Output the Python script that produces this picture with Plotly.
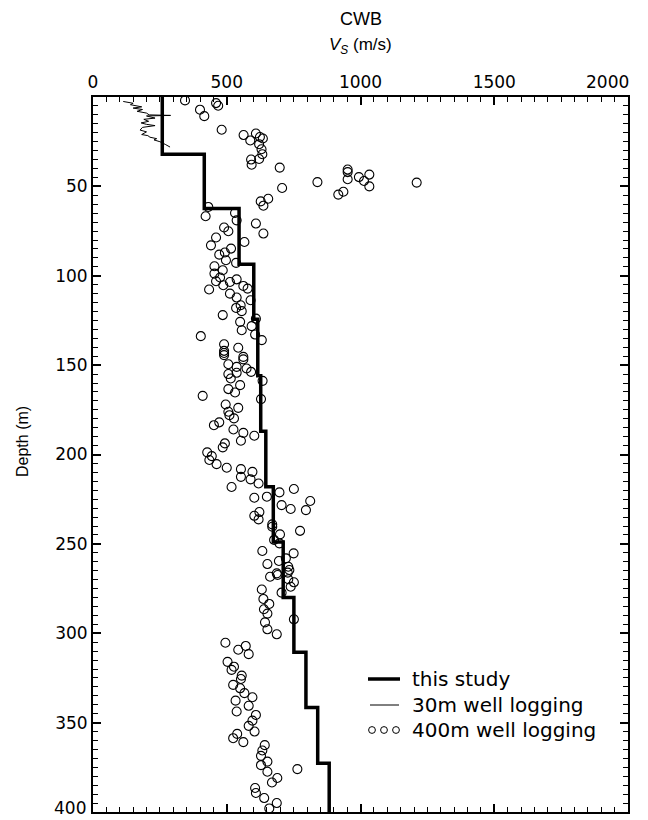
import plotly.graph_objects as go

# ---- data ----
# "this study" layered model: layer top depths (m) and Vs (m/s)
study_top = [0, 32, 62.4, 93.5, 124.3, 156, 187, 218, 249, 280, 310.6, 341.6, 372.7, 400]
study_vs = [259, 416, 546, 601, 616, 627, 646, 674, 711, 751, 796, 840, 883, 883]

# 30 m well logging profile
log30_depth = [2.5, 3.5, 4.3, 5.5, 6.2, 7.0, 8.0, 9.0, 10.0, 10.3, 10.6, 11.8, 12.5, 13.6,
               14.5, 15.3, 16.0, 17.0, 18.5, 19.5, 21.0, 21.6, 22.5, 23.3, 24.0, 25.0, 26.5, 28.0]
log30_vs = [113, 150, 140, 182, 150, 185, 165, 200, 210, 290, 200, 232, 190, 208,
            180, 200, 232, 185, 176, 200, 182, 205, 213, 238, 228, 250, 270, 288]

# 400 m well logging samples
log400_vs = [
    344, 400, 416, 460, 468, 481, 563, 588, 609, 624, 635, 621, 630, 633, 591, 593, 621, 698, 707, 627, 655, 637,
    839, 952, 952, 952, 917, 936, 994, 1013, 1033, 1033, 1210,
    431, 421, 531, 537, 609, 637, 490, 506, 460, 441, 566, 516, 493, 472, 497, 535, 454, 485, 454, 460, 475, 512,
    537, 487, 562, 578, 434, 512, 537, 589, 552, 535, 556, 485, 609, 550, 556, 593, 606, 631, 403, 490, 490, 490,
    490, 543, 562, 562, 506, 537, 574, 591, 537, 506, 515, 634, 550, 506, 531, 410, 628,
    496, 543, 506, 510, 527, 472, 452, 525, 562, 603, 553, 493, 485, 427, 444, 435, 462, 500, 553, 596, 553, 589,
    619, 518, 697, 751, 650, 603, 812, 705, 739, 796, 622, 603, 619, 670, 670, 774, 699, 677, 697, 633, 750, 721,
    695, 652, 730, 734, 728, 687, 690, 662, 730, 751, 739, 631,
    705, 637, 659, 639, 652, 643, 751, 652, 687, 495, 543, 571, 582, 503, 518, 527, 556, 553, 550, 524, 566, 596,
    533, 582, 537, 609, 596, 582, 604, 539, 524, 562, 642, 633, 628, 652, 628, 652, 764, 689, 669, 606, 609, 640,
    687, 659, 776]
log400_depth = [
    1.9, 7.1, 10.7, 3.4, 4.9, 18.3, 21.3, 24.3, 20.4, 22.4, 23.2, 26.4, 29.2, 32, 35, 37.9, 34.7, 39.5, 50.9, 58.4, 56.9, 60.8,
    47.6, 40.6, 42, 46, 54.6, 53, 44.8, 47, 43.4, 50, 47.9,
    61.5, 66.7, 64.9, 69, 70.8, 76.4, 73, 75.1, 78.6, 83, 81.1, 84.8, 87, 88.2, 91.3, 92.8, 94.7, 96.9, 98.8, 103.1, 101, 103.5,
    102, 105.3, 105.7, 107.2, 107.7, 110, 112.2, 113.7, 116.5, 118, 119.8, 122, 124, 125.8, 130.5, 128.2, 132.9, 136, 133.8, 138.3, 142, 143.2,
    144.4, 140.3, 145.4, 146.8, 149.5, 151, 151.9, 153.8, 154.3, 155, 157.5, 158.8, 161.2, 163.4, 165.3, 167.2, 169,
    172, 173.9, 176.1, 178, 179.8, 182, 183.6, 186, 187.9, 189.5, 192.3, 193.8, 196, 198.8, 200.9, 203.1, 205.4, 207.4, 208.2, 209.7, 212.5, 213.9,
    216.2, 218.2, 221.2, 219.3, 223.6, 224.2, 226, 228.3, 230.5, 231.1, 232.2, 234.3, 236.3, 239.1, 240.4, 242.7, 244.7, 247.8, 249.7, 254, 255.3, 258.1,
    259.6, 261.3, 262.8, 264.6, 266.1, 266.5, 267.4, 268.4, 269.8, 271.5, 274, 275.5,
    277.3, 280.8, 283.6, 286.6, 289, 293.9, 292.2, 297.8, 300.6, 305.3, 309.2, 307.1, 311.7, 316, 320.5, 318.7, 323.7, 325.6, 330.8, 328.9, 333.5, 335.8,
    337.7, 340.6, 343.8, 345.7, 348.9, 351.8, 355, 356.3, 358.7, 360.9, 362.6, 365.6, 368.6, 371.8, 373.8, 377.5, 376, 381, 383.5, 386.6, 389.4, 392.2,
    395, 398, 400.5]

x_ticks = [0, 500, 1000, 1500, 2000]
x_ticktext = ["0", "500", "1000", "1500", ""]   # last label drawn as an annotation so it stays inside the page
x_last_label = "2000"
y_ticks = [50, 100, 150, 200, 250, 300, 350, 400]
y_ticktext = ["50", "100", "150", "200", "250", "300", "350", ""]  # last label drawn as an annotation
y_last_label = "400"
legend_labels = ["this study", "30m well logging", "400m well logging"]

TICKFONT = dict(family="DejaVu Sans", size=17, color="black")

fig = go.Figure()
fig.add_trace(go.Scatter(x=log400_vs, y=log400_depth, mode="markers", cliponaxis=False,
                         marker=dict(symbol="circle-open", size=9, color="black", line=dict(width=1.1, color="black")),
                         showlegend=False))
fig.add_trace(go.Scatter(x=log30_vs, y=log30_depth, mode="lines",
                         line=dict(color="black", width=1), showlegend=False))
fig.add_trace(go.Scatter(x=study_vs, y=study_top, mode="lines", line_shape="vh",
                         line=dict(color="black", width=3.5), showlegend=False))

axis_common = dict(showgrid=False, zeroline=False, showline=True, linecolor="black", linewidth=2,
                   mirror="ticks", ticks="inside", ticklen=8, tickwidth=1.5, tickcolor="black",
                   tickfont=TICKFONT, ticklabeloverflow="allow")
fig.update_xaxes(range=[0, 2000], side="top", tickvals=x_ticks, ticktext=x_ticktext,
                 minor=dict(dtick=50, ticklen=5, tickwidth=1.2, ticks="inside", tickcolor="black"),
                 ticklabelstandoff=0, **axis_common)
fig.update_yaxes(range=[400, 0], tickvals=y_ticks, ticktext=y_ticktext,
                 minor=dict(dtick=5, ticklen=5, tickwidth=1.2, ticks="inside", tickcolor="black"),
                 ticklabelstandoff=0, **axis_common)

# page has an 8px body margin, so the figure is drawn 8px right and down
OFF = 8
W, H = 648 - OFF, 820 - OFF
L, T = 93 - OFF, 97 - OFF
PLOT_R, PLOT_B = 628 - OFF, 812 - OFF
R, B = W - PLOT_R, H - PLOT_B
pw, ph = PLOT_R - L, PLOT_B - T

def px(x):
    return (x - OFF - L) / pw

def py(y):
    return (PLOT_B - (y - OFF)) / ph

shapes = [
    dict(type="line", xref="paper", yref="paper", x0=px(368), x1=px(400), y0=py(679), y1=py(679),
         line=dict(color="black", width=3.5)),
    dict(type="line", xref="paper", yref="paper", x0=px(370), x1=px(399), y0=py(705), y1=py(705),
         line=dict(color="black", width=1)),
]
for cx in (372, 384, 396):
    shapes.append(dict(type="circle", xref="paper", yref="paper", xsizemode="pixel", ysizemode="pixel",
                       xanchor=px(cx), yanchor=py(730), x0=-3.4, x1=3.4, y0=-3.4, y1=3.4,
                       line=dict(color="black", width=1)))

annotations = [
    dict(text="CWB", xref="paper", yref="paper", x=0.5, y=py(19), xanchor="center", yanchor="middle",
         showarrow=False, font=dict(family="Liberation Sans", size=18, color="black")),
    dict(text="<i>V</i><sub><i>S</i></sub> (m/s)", xref="paper", yref="paper", x=0.5, y=py(46),
         xanchor="center", yanchor="middle",
         showarrow=False, font=dict(family="Liberation Sans", size=17, color="black")),
    dict(text="Depth (m)", xref="paper", yref="paper", x=px(22), y=py(442), textangle=-90,
         xanchor="center", yanchor="middle",
         showarrow=False, font=dict(family="Liberation Sans", size=16, color="black")),
    dict(text=x_last_label, xref="x", yref="paper", x=x_ticks[-1], xshift=3, y=py(82),
         xanchor="right", yanchor="middle", showarrow=False, font=TICKFONT),
    dict(text=y_last_label, xref="paper", yref="paper", x=px(88), y=py(820),
         xanchor="right", yanchor="bottom", showarrow=False, font=TICKFONT),
]
for lab, yy in zip(legend_labels, (679, 705, 730)):
    annotations.append(dict(text=lab, xref="paper", yref="paper", x=px(410), y=py(yy), xanchor="left",
                            yanchor="middle", showarrow=False,
                            font=dict(family="DejaVu Sans", size=20, color="black")))

fig.update_layout(width=W, height=H, margin=dict(l=L, r=R, t=T, b=B, autoexpand=False),
                  plot_bgcolor="white", paper_bgcolor="white", shapes=shapes, annotations=annotations,
                  showlegend=False)
fig.write_html("out.html")
